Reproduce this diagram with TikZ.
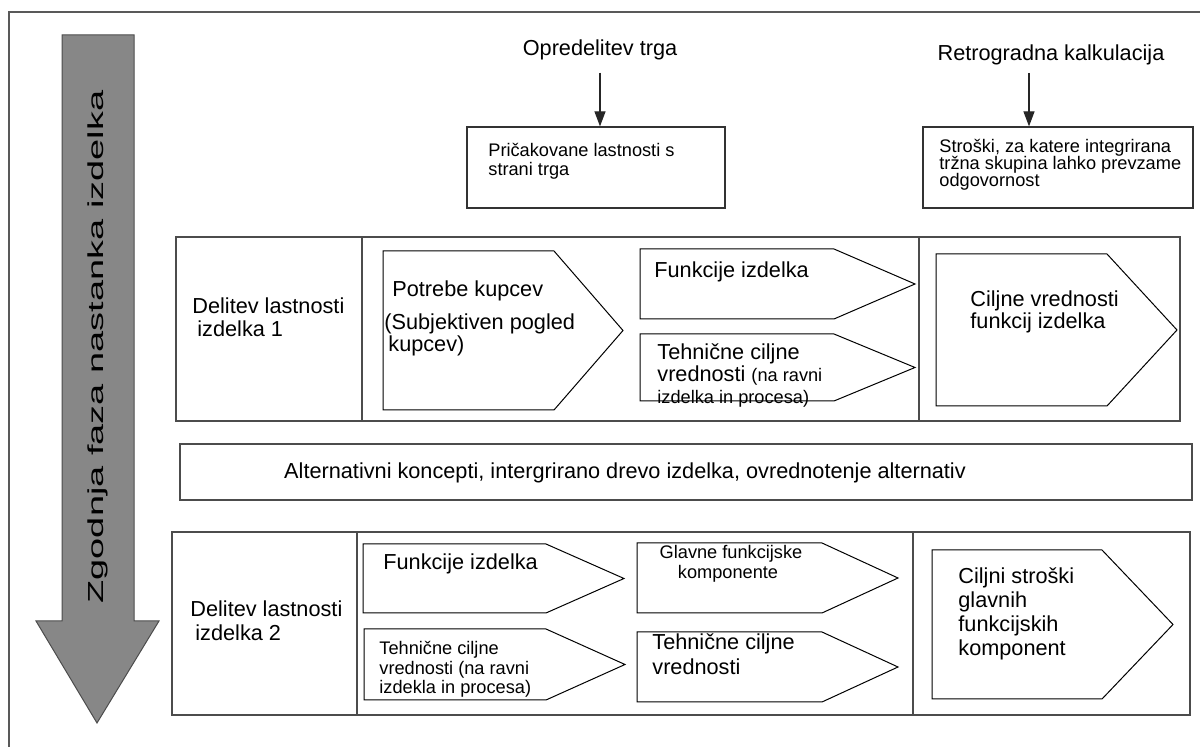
\documentclass[tikz,border=0pt]{standalone}
\usepackage{fontspec}
\usepackage{graphicx}
\setmainfont{Liberation Sans}
\usetikzlibrary{arrows.meta}
\newcommand{\mainsz}{\fontsize{10.85}{12}\selectfont}
\newcommand{\smallsz}{\fontsize{9.1}{10}\selectfont}
\begin{document}
\begin{tikzpicture}[x=0.5pt,y=-0.5pt,
  frameline/.style={draw=black!65, line width=0.6pt},
  container/.style={draw=black!70, line width=0.8pt},
  tag/.style={draw=black, line width=0.5pt},
  infobox/.style={draw=black!80, line width=0.6pt, inner sep=0pt},
  phasearrow/.style={fill=black!47, draw=black!70, line width=0.5pt},
  conn/.style={draw=black!85, line width=0.6pt, -{Triangle[length=7.5pt,width=5.5pt]}},
  txt/.style={inner sep=0pt, anchor=base west, font=\mainsz},
  stxt/.style={inner sep=0pt, anchor=base west, font=\smallsz},
  ctxt/.style={inner sep=0pt, font=\mainsz}]

\useasboundingbox (0,0) rectangle (1200,747);

% outer frame
\draw[frameline] (9,747) -- (9,12) -- (1200,12);

% phase arrow with its caption
\draw[phasearrow] (62,35) -- (134,35) -- (134,621) -- (159,621) -- (97,723)
  -- (36,621) -- (62,621) -- cycle;
\node[ctxt, rotate=90] (phase) at (98,347)
  {\scalebox{1.75}[1]{Zgodnja faza nastanka izdelka}};

% market definition and retrograde costing
\node[ctxt] (opt) at (600,50) {Opredelitev trga};
\node[ctxt] (ret) at (1051,55) {Retrogradna kalkulacija};
\node[infobox, minimum width=129pt, minimum height=40.5pt] (prk) at (596,167.5) {};
\node[infobox, minimum width=135pt, minimum height=40.5pt] (skb) at (1058,167.5) {};
\node[stxt] (prk1) at (488,157) {Pričakovane lastnosti s};
\node[stxt] (prk2) at (488,176) {strani trga};
\node[stxt] (skb1) at (939,153) {Stroški, za katere integrirana};
\node[stxt] (skb2) at (939,170) {tržna skupina lahko prevzame};
\node[stxt] (skb3) at (939,187) {odgovornost};
\coordinate (rk) at (1029,73);
\draw[conn] ([yshift=-6pt]opt.south) -- (opt.south |- prk.north);
\draw[conn] (rk) -- (rk |- skb.north);

% first property breakdown
\draw[container] (176,237) rectangle (1180,421);
\draw[container] (362,237) -- (362,421);
\draw[container] (919,237) -- (919,421);
\node[txt] (d1a) at (192,314) {Delitev lastnosti};
\node[txt] (d1b) at (197,337) {izdelka 1};

\draw[tag] (383,251) -- (554,251) -- (623,330.5) -- (554,410) -- (383,410) -- cycle;
\node[txt] (pk1) at (392,297) {Potrebe kupcev};
\node[txt] (pk2) at (384,330) {(Subjektiven pogled};
\node[txt] (pk3) at (388,352) {kupcev)};

\draw[tag] (640,249) -- (834,249) -- (915,284) -- (834,319) -- (640,319) -- cycle;
\node[txt] (fi1) at (654,278) {Funkcije izdelka};

\draw[tag] (640,334) -- (834,334) -- (915,367.5) -- (834,401) -- (640,401) -- cycle;
\node[txt] (tc1) at (657,360) {Tehnične ciljne};
\node[txt] (tc2) at (657,382) {vrednosti {\smallsz (na ravni}};
\node[stxt] (tc3) at (657,404) {izdelka in procesa)};

\draw[tag] (936,254) -- (1107,254) -- (1177,330) -- (1107,406) -- (936,406) -- cycle;
\node[txt] (cv1) at (970,307) {Ciljne vrednosti};
\node[txt] (cv2) at (970,329) {funkcij izdelka};

% alternatives bar
\node[draw=black!70, line width=0.8pt, inner sep=0pt,
  minimum width=506pt, minimum height=28pt] (alt) at (686,472) {};
\node[ctxt, anchor=base] (altt) at (625,479)
  {Alternativni koncepti, intergrirano drevo izdelka, ovrednotenje alternativ};

% second property breakdown
\draw[container] (172,532) rectangle (1190,715);
\draw[container] (357,532) -- (357,715);
\draw[container] (913,532) -- (913,715);
\node[txt] (d2a) at (190,617) {Delitev lastnosti};
\node[txt] (d2b) at (195,641) {izdelka 2};

\draw[tag] (363,544) -- (546,544) -- (624,578.5) -- (546,613) -- (363,613) -- cycle;
\node[txt] (fi2) at (383,570) {Funkcije izdelka};

\draw[tag] (364,629) -- (546,629) -- (625,664.5) -- (546,700) -- (364,700) -- cycle;
\node[stxt] (tk1) at (379,655) {Tehnične ciljne};
\node[stxt] (tk2) at (379,675) {vrednosti (na ravni};
\node[stxt] (tk3) at (379,694) {izdekla in procesa)};

\draw[tag] (637,543) -- (822,543) -- (898,578) -- (822,613) -- (637,613) -- cycle;
\node[inner sep=0pt, anchor=base, font=\smallsz] (gf1) at (731,559) {Glavne funkcijske};
\node[inner sep=0pt, anchor=base, font=\smallsz] (gf2) at (728,579) {komponente};

\draw[tag] (637,632) -- (822,632) -- (898,667) -- (822,702) -- (637,702) -- cycle;
\node[txt] (tv1) at (652,650) {Tehnične ciljne};
\node[txt] (tv2) at (652,675) {vrednosti};

\draw[tag] (932,550) -- (1102,550) -- (1173,624.5) -- (1102,699) -- (932,699) -- cycle;
\node[txt] (cs1) at (958,584) {Ciljni stroški};
\node[txt] (cs2) at (958,608) {glavnih};
\node[txt] (cs3) at (958,632) {funkcijskih};
\node[txt] (cs4) at (958,656) {komponent};

\end{tikzpicture}
\end{document}
